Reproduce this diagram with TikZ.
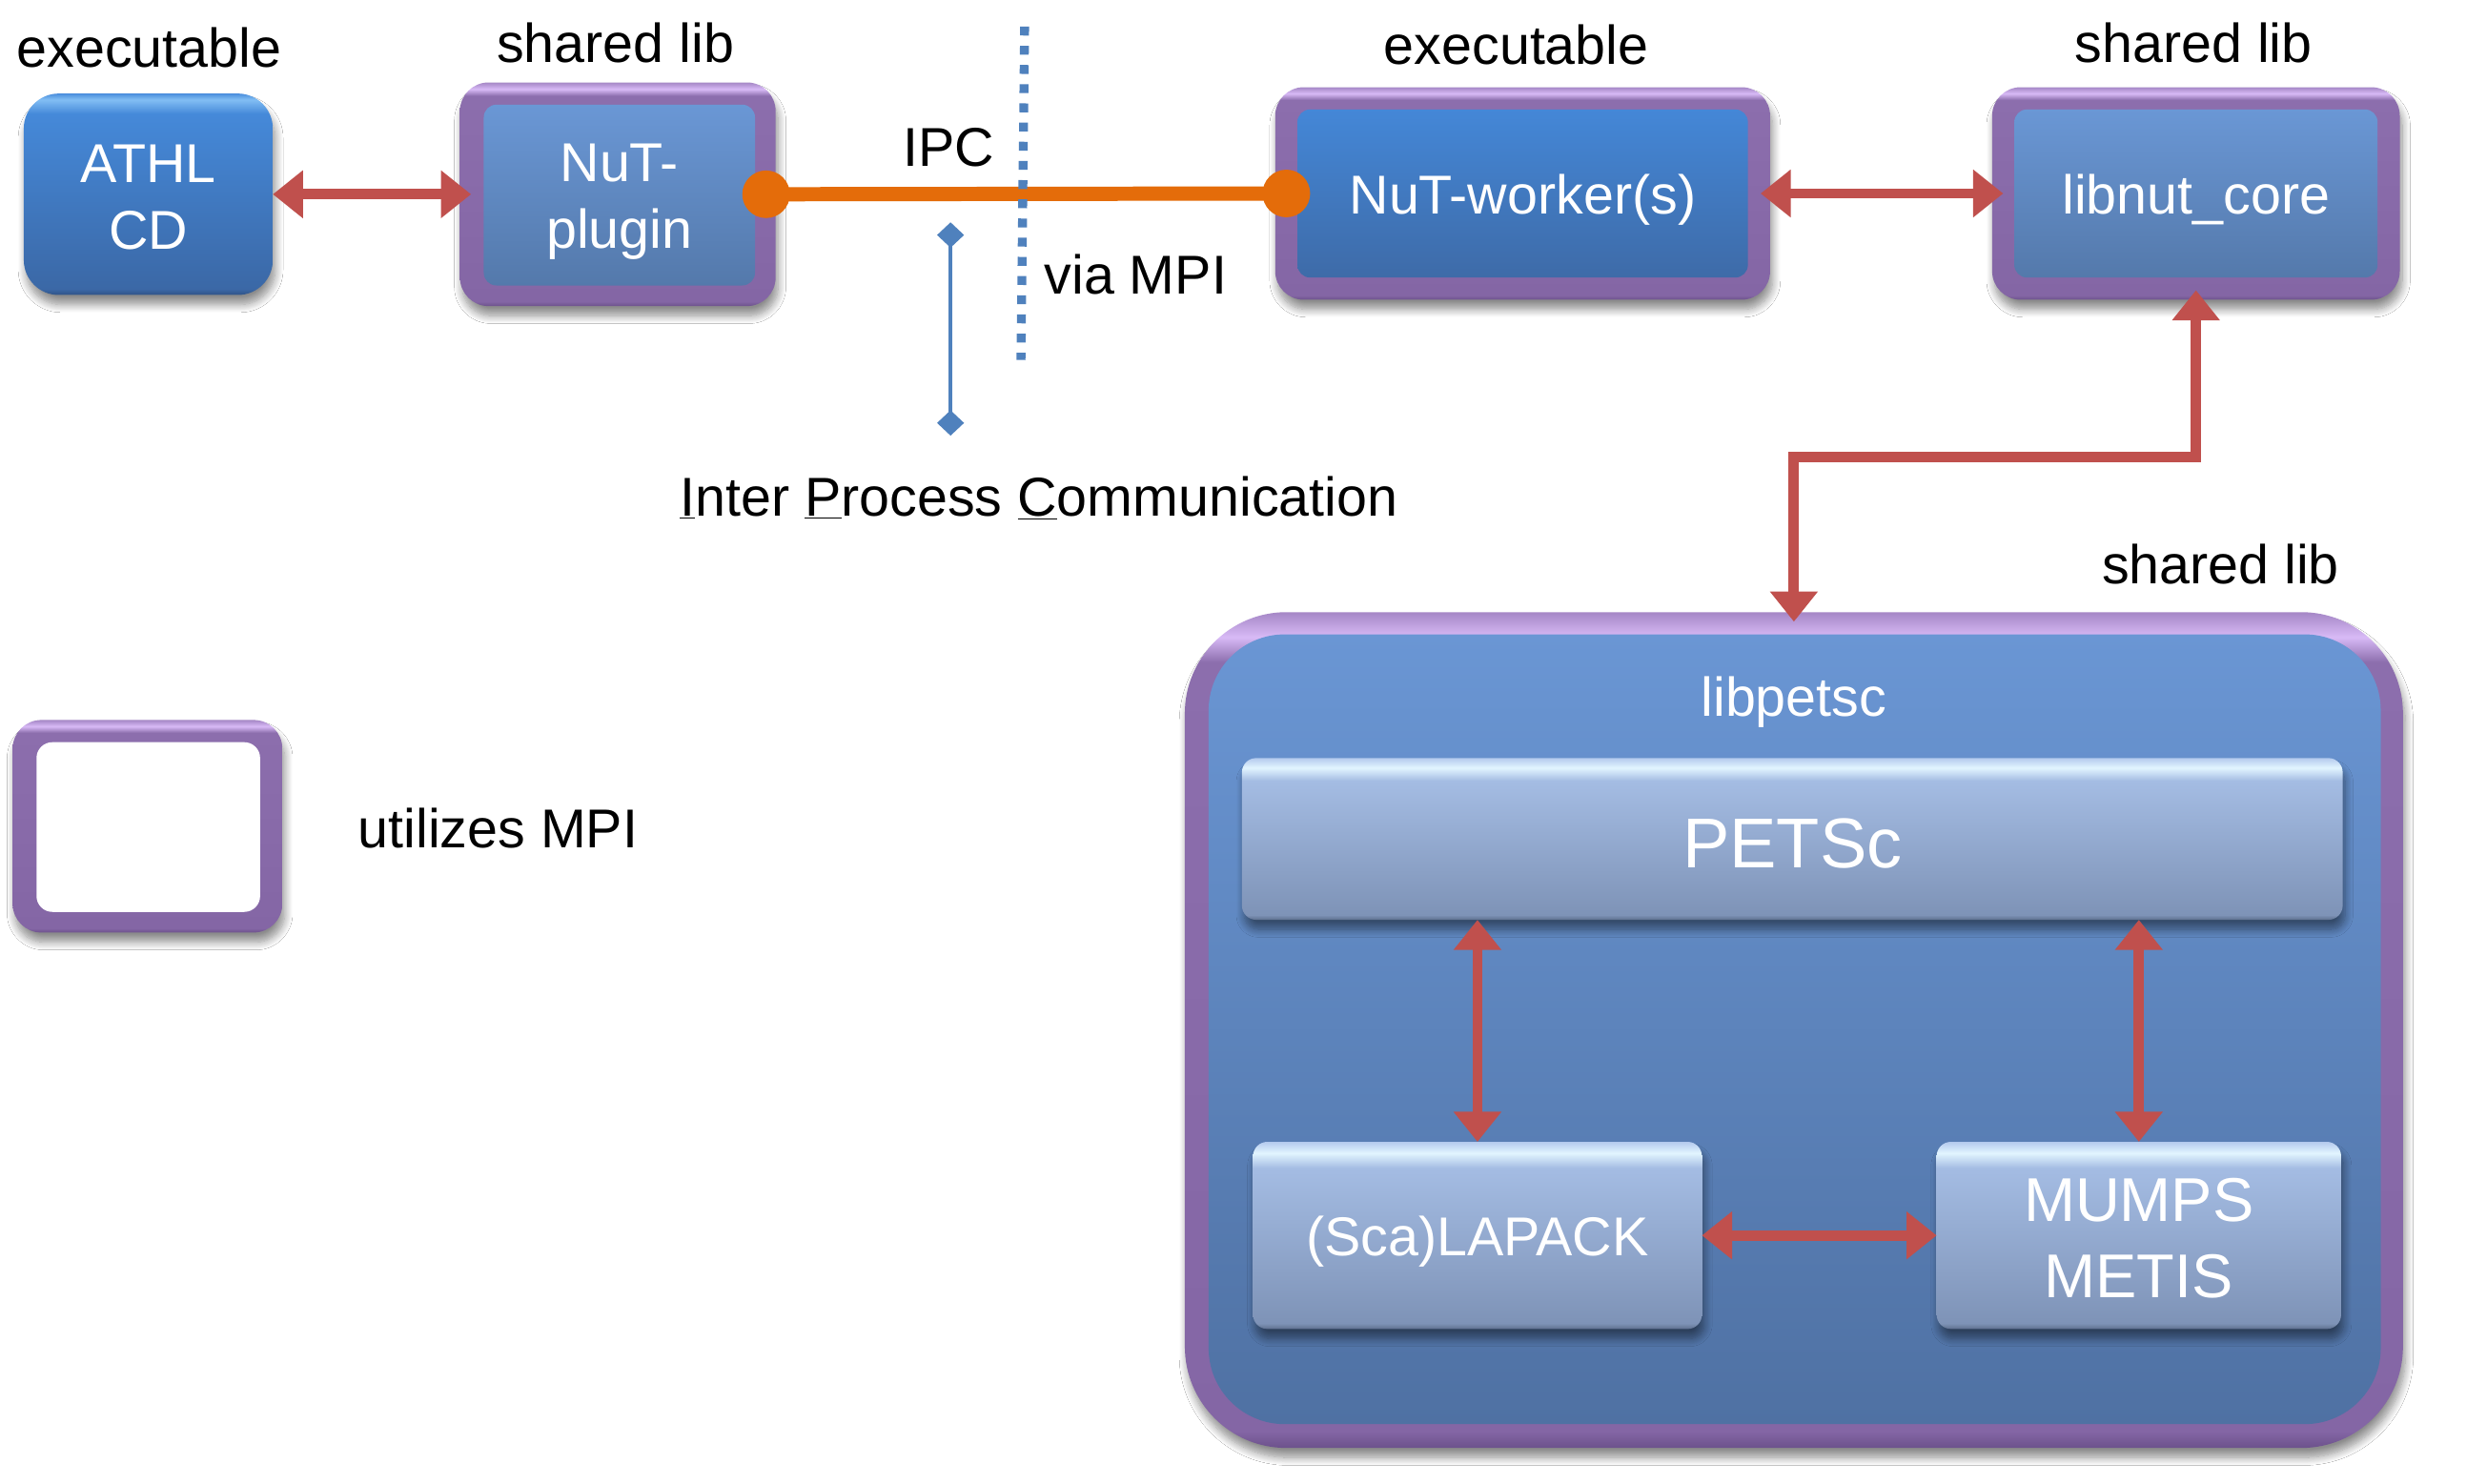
\documentclass[tikz,border=0pt]{standalone}
\usepackage{fontspec}
\setmainfont{Liberation Sans}
\usetikzlibrary{arrows.meta,shadows,shadows.blur}
\definecolor{redA}{HTML}{C0504D}
\definecolor{orangeA}{HTML}{E46C0A}
\definecolor{blueL}{HTML}{4F81BD}
\definecolor{frDk}{HTML}{6C518B}
\definecolor{frLo}{HTML}{8466A5}
\definecolor{frMid}{HTML}{8C6EAD}
\definecolor{frHi}{HTML}{D8BAF6}
\definecolor{frTp}{HTML}{A587C6}
\definecolor{dkTop}{HTML}{4487D7}
\definecolor{dkBot}{HTML}{3E6BA8}
\definecolor{ltTop}{HTML}{6A97D5}
\definecolor{ltBot}{HTML}{5479AB}
\definecolor{pTop}{HTML}{6A96D4}
\definecolor{pBot}{HTML}{4F71A3}
\definecolor{bxDk}{HTML}{5E6F8E}
\definecolor{bxBot}{HTML}{7E93B7}
\definecolor{bxTop}{HTML}{A4BCE3}
\definecolor{bxHi}{HTML}{E2F5FF}
\definecolor{bxTp}{HTML}{B4CAEE}
\definecolor{atDk}{HTML}{2F5386}
\definecolor{atBot}{HTML}{3B68A6}
\definecolor{atTop}{HTML}{4589D9}
\definecolor{atHi}{HTML}{82BEF4}
\definecolor{atTp}{HTML}{4A8EDD}
\pgfdeclareverticalshading{frshade}{100bp}{color(0bp)=(frDk); color(25bp)=(frDk); color(26bp)=(frLo);
  color(72bp)=(frMid); color(73.5bp)=(frHi); color(75bp)=(frTp); color(100bp)=(frTp)}
\pgfdeclareverticalshading{libshade}{100bp}{color(0bp)=(bxDk); color(25bp)=(bxDk); color(26.5bp)=(bxBot);
  color(68bp)=(bxTop); color(72bp)=(bxHi); color(75bp)=(bxTp); color(100bp)=(bxTp)}
\pgfdeclareverticalshading{athlshade}{100bp}{color(0bp)=(atDk); color(25bp)=(atDk); color(26.5bp)=(atBot);
  color(70bp)=(atTop); color(73.5bp)=(atHi); color(75bp)=(atTp); color(100bp)=(atTp)}
\newcommand{\lowtxt}[2]{\raisebox{-#1}[\height][\depth]{#2}}
\tikzset{
  txt/.style={font=\fontsize{34.5}{42}\selectfont, text=black, inner sep=0pt},
  wtxt/.style={font=\fontsize{34.5}{42}\selectfont, text=white, align=center},
  shad/.style={blur shadow={shadow blur steps=10, shadow blur radius=5pt, shadow xshift=1.5pt,
    shadow yshift=-6pt, shadow opacity=45}},
  frame/.style={rounded corners=18pt, shading=frshade, inner sep=0pt, outer sep=0pt, shad},
  darkin/.style={rounded corners=8pt, top color=dkTop, bottom color=dkBot, inner sep=0pt, outer sep=0pt, wtxt},
  lightin/.style={rounded corners=8pt, top color=ltTop, bottom color=ltBot, inner sep=0pt, outer sep=0pt, wtxt},
  libbox/.style={rounded corners=9pt, shading=libshade, inner sep=0pt, outer sep=0pt, wtxt, shad},
  dblarrow/.style={draw=redA, line width=6.5pt, {Triangle[width=29pt,length=19pt]}-{Triangle[width=29pt,length=19pt]}},
  ipcline/.style={draw=orangeA, line width=9pt},
  ipcdot/.style={fill=orangeA},
  sepline/.style={draw=blueL, line width=5.6pt, dash pattern=on 5.6pt off 6.5pt},
  callout/.style={draw=blueL, line width=2.4pt, {Diamond[width=17pt,length=16pt]}-{Diamond[width=17pt,length=16pt]}}
}
\begin{document}
\begin{tikzpicture}[x=1pt,y=-1pt]
\useasboundingbox[fill=white] (0,0) rectangle (1568,935.7);

% ATHL CD
\node[wtxt, shading=athlshade, rounded corners=22pt, inner sep=0pt, outer sep=0pt, shad,
      minimum width=157pt, minimum height=127pt] (athl) at (93.5,122.5) {\lowtxt{2pt}{ATHL}\\\lowtxt{2pt}{CD}};

% NuT-plugin
\node[frame, minimum width=199pt, minimum height=141pt] (plugfr) at (389.5,122.5) {};
\node[lightin, minimum width=171pt, minimum height=114pt] (plugin) at (390.5,123) {\lowtxt{4.5pt}{NuT-}\\\lowtxt{4.5pt}{plugin}};

% NuT-worker(s)
\node[frame, minimum width=312pt, minimum height=134pt] (workfr) at (960,122) {};
\node[darkin, minimum width=284pt, minimum height=106pt] (worker) at (960,122) {\lowtxt{4pt}{NuT-worker(s)}};

% libnut_core
\node[frame, minimum width=257pt, minimum height=134pt] (corefr) at (1384.5,122) {};
\node[lightin, minimum width=229pt, minimum height=106pt] (core) at (1384.5,122) {\lowtxt{4pt}{libnut\_core}};

% libpetsc
\node[frame, rounded corners=64pt, minimum width=768pt, minimum height=527pt] (petfr) at (1131,649.5) {};
\node[rounded corners=48pt, top color=pTop, bottom color=pBot, inner sep=0pt, outer sep=0pt,
      minimum width=739pt, minimum height=498pt] (petin) at (1131.5,649) {};
\node[wtxt] (petlbl) at (1131,443) {libpetsc};

\node[libbox, font=\fontsize{44.5}{50}\selectfont, minimum width=694pt, minimum height=102pt] (petsc) at (1130,529) {\lowtxt{3pt}{PETSc}};
\node[libbox, minimum width=283pt, minimum height=118pt] (lapack) at (931.5,779) {\lowtxt{4pt}{(Sca)LAPACK}};
\node[libbox, font=\fontsize{39}{48}\selectfont, minimum width=255pt, minimum height=118pt] (mumps) at (1348.5,779) {\lowtxt{2pt}{MUMPS}\\\lowtxt{2pt}{METIS}};

% legend
\node[frame, minimum width=170pt, minimum height=134pt] (legfr) at (93,521) {};
\node[rounded corners=10pt, fill=white, inner sep=0pt, outer sep=0pt,
      minimum width=141pt, minimum height=107pt] (legin) at (93.5,521.5) {};
\node[txt] (leglbl) at (314,522) {utilizes MPI};

% labels
\node[txt] (l1) at (94,30) {executable};
\node[txt] (l2) at (388,27) {shared lib};
\node[txt] (l3) at (956,28) {executable};
\node[txt] (l4) at (1383,27) {shared lib};
\node[txt] (l5) at (1400,356) {shared lib};
\node[txt] (ipc) at (598,93) {IPC};
\node[txt] (viampi) at (716,173) {via MPI};
\node[txt] (ipclong) at (655,314) {\underline{I}nter \underline{P}rocess \underline{C}ommunication};

% connectors
\draw[dblarrow] (athl.east) -- ([xshift=7pt]plugfr.west);
\draw[dblarrow] ([xshift=-6pt]workfr.east) -- ([xshift=7pt]corefr.west);

\coordinate (kink) at (1131,288);
\draw[dblarrow] ([yshift=6pt]corefr.south) |- (kink) -- ([yshift=-6pt]kink |- petfr.north);

\draw[dblarrow] (lapack.north |- petsc.south) -- (lapack.north);
\draw[dblarrow] (mumps.north |- petsc.south) -- (mumps.north);
\draw[dblarrow] (lapack.east) -- (mumps.west);

% IPC line
\coordinate (ipcL) at ([xshift=-6pt]plugfr.east);
\coordinate (ipcR) at ([xshift=7pt]workfr.west);
\draw[ipcline] (ipcL) -- (ipcR);
\fill[ipcdot] (ipcL) circle (15pt);
\fill[ipcdot] (ipcR) circle (15pt);

% separator and callout
\coordinate (sepT) at (646,16.8);
\coordinate (sepB) at (643.7,227);
\draw[sepline] (sepT) -- (sepB);
\coordinate (calT) at (599.3,140.2);
\coordinate (calB) at (599.3,274.7);
\draw[callout] (calT) -- (calB);
\end{tikzpicture}
\end{document}
